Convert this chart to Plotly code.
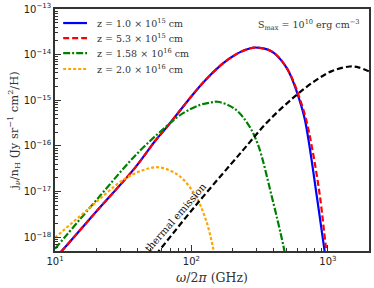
import plotly.graph_objects as go

# ---- data (frequency in GHz, j_nu/n_H in Jy sr^-1 cm^2/H)
freq_z1 = [10.0, 11.2, 20.3, 38.8, 54.5, 64.6, 100, 117, 132, 151, 174, 200, 229, 263, 288, 316, 363, 406,
           457, 501, 537, 603, 675, 735, 826, 925, 966]
j_z1 = [3.5e-19, 5.0e-19, 3.8e-18, 3.4e-17, 1.32e-16, 2.4e-16, 1.23e-15, 2.14e-15, 3.16e-15, 4.7e-15,
        6.8e-15, 9.1e-15, 1.15e-14, 1.35e-14, 1.43e-14, 1.41e-14, 1.29e-14, 1.07e-14,
        7.4e-15, 5.0e-15, 3.3e-15, 1.29e-15, 4.0e-16, 9.3e-17, 8.5e-18, 7.9e-19, 3.2e-19]

freq_z2 = [10.0, 11.2, 20.3, 38.8, 54.5, 64.6, 100, 117, 132, 151, 174, 200, 229, 263, 288, 316, 363, 406,
           457, 501, 540, 610, 689, 764, 871, 962, 1000]
j_z2 = [3.5e-19, 5.0e-19, 3.8e-18, 3.4e-17, 1.32e-16, 2.4e-16, 1.23e-15, 2.14e-15, 3.16e-15, 4.7e-15,
        6.8e-15, 9.1e-15, 1.15e-14, 1.35e-14, 1.43e-14, 1.41e-14, 1.29e-14, 1.07e-14,
        7.4e-15, 5.0e-15, 3.3e-15, 1.29e-15, 4.0e-16, 9.3e-17, 8.5e-18, 6.8e-19, 2.8e-19]

freq_z3 = [10.0, 21.4, 38.8, 64.6, 85.7, 114, 138, 155, 206, 258, 307, 385, 470, 490]
j_z3 = [5.6e-19, 8.1e-18, 6.2e-17, 2.6e-16, 5.1e-16, 7.8e-16, 8.9e-16, 9.3e-16, 6.6e-16, 3.1e-16,
        1.07e-16, 8.5e-18, 6.8e-19, 3.5e-19]

freq_z4 = [10.0, 17.6, 31.0, 43.4, 57.7, 80.9, 107, 127, 143, 148]
j_z4 = [9.8e-19, 4.2e-18, 1.74e-17, 2.9e-17, 3.4e-17, 2.24e-17, 8.1e-18, 2.5e-18, 6.5e-19, 3.5e-19]

freq_th = [55.0, 57.7, 107, 237, 362, 569, 794, 1059, 1445, 1700, 2000]
j_th = [4.2e-19, 5.0e-19, 4.9e-18, 7.9e-17, 3.4e-16, 1.2e-15, 2.6e-15, 4.3e-15, 5.5e-15, 5.2e-15, 4.3e-15]

labels = ["z = 1.0 × 10<sup>15</sup> cm", "z = 5.3 × 10<sup>15</sup> cm",
          "z = 1.58 × 10<sup>16</sup> cm", "z = 2.0 × 10<sup>16</sup> cm"]

x_ticks = [10, 100, 1000]
x_ticktext = ["10<sup>1</sup>", "10<sup>2</sup>", "10<sup>3</sup>"]
y_ticks = [1e-18, 1e-17, 1e-16, 1e-15, 1e-14, 1e-13]
y_ticktext = ["10<sup>−18</sup>", "10<sup>−17</sup>", "10<sup>−16</sup>",
              "10<sup>−15</sup>", "10<sup>−14</sup>", "10<sup>−13</sup>"]

SERIF = "DejaVu Serif"
SANS = "DejaVu Sans"
SM = 1.0

styles = [
    dict(color="#0000ff", width=2.2, dash="solid"),
    dict(color="#ff0000", width=2.2, dash="6px,3px"),
    dict(color="#008000", width=2.2, dash="7px,2px,2px,2px"),
    dict(color="#ffa500", width=2.2, dash="3px,2px"),
]
series = [(freq_z1, j_z1), (freq_z2, j_z2), (freq_z3, j_z3), (freq_z4, j_z4)]

fig = go.Figure()
for (fx, fy), st, lab in zip(series, styles, labels):
    fig.add_trace(go.Scatter(x=fx, y=fy, mode="lines", name=lab, showlegend=False,
                             line=dict(**st, shape="spline", smoothing=SM)))
fig.add_trace(go.Scatter(x=freq_th, y=j_th, mode="lines", showlegend=False,
                         line=dict(color="#000000", width=2.2, dash="6px,3px", shape="spline", smoothing=SM)))

# compact legend (matplotlib-like spacing)
leg_rows = [0.942, 0.880, 0.818, 0.752]
for st, lab, ry in zip(styles, labels, leg_rows):
    fig.add_shape(type="line", xref="paper", yref="paper", x0=0.026, x1=0.102, y0=ry, y1=ry,
                  line=dict(color=st["color"], width=2.2, dash=st["dash"]))
    fig.add_annotation(xref="paper", yref="paper", x=0.127, y=ry, xanchor="left", yanchor="middle",
                       text=lab, showarrow=False, font=dict(family=SERIF, size=9.5, color="#333"))

minor_x = [m * d for d in (10, 100, 1000) for m in range(2, 10)]
minor_y = [m * d for d in (1e-19, 1e-18, 1e-17, 1e-16, 1e-15, 1e-14) for m in range(2, 10)]

fig.add_annotation(x=3.25, y=-13.35, xref="x", yref="y", xanchor="right", yanchor="middle",
                   text="S<sub>max</sub> = 10<sup>10</sup> erg cm<sup>−3</sup>",
                   showarrow=False, font=dict(family=SERIF, size=9.5, color="#333"))
fig.add_annotation(x=1.884, y=-17.575, xref="x", yref="y", text="thermal emission",
                   textangle=-49, showarrow=False, font=dict(family=SERIF, size=10, color="#111"))

fig.update_xaxes(type="log", range=[1, 3.301], showline=True, linecolor="#333", linewidth=1.5,
                 mirror=True, ticks="inside", ticklen=6, tickwidth=1.3, tickcolor="#333",
                 tickmode="array", tickvals=x_ticks, ticktext=x_ticktext, showgrid=False, zeroline=False,
                 automargin=False,
                 tickfont=dict(family=SANS, size=10, color="#222"),
                 minor=dict(ticks="inside", ticklen=3, tickcolor="#333", tickmode="array", tickvals=minor_x,
                            showgrid=False),
                 title=dict(text="<i>ω</i>/2<i>π</i> (GHz)", font=dict(family=SERIF, size=12.5, color="#333"),
                            standoff=7))
fig.update_yaxes(type="log", range=[-18.301, -13], showline=True, linecolor="#333", linewidth=1.5,
                 mirror=True, ticks="inside", ticklen=6, tickwidth=1.3, tickcolor="#333",
                 tickmode="array", tickvals=y_ticks, ticktext=y_ticktext, showgrid=False, zeroline=False,
                 automargin=False,
                 tickfont=dict(family=SANS, size=10, color="#222"),
                 minor=dict(ticks="inside", ticklen=3, tickcolor="#333", tickmode="array", tickvals=minor_y,
                            showgrid=False),
                 title=dict(text="j<sub><i>ν</i></sub>/n<sub>H</sub> (Jy sr<sup>−1</sup> cm<sup>2</sup>/H)",
                            font=dict(family=SERIF, size=11.5, color="#333"), standoff=3))

fig.update_layout(width=374, height=288, margin=dict(l=55, r=5, t=9, b=37, autoexpand=False),
                  paper_bgcolor="white", plot_bgcolor="white", showlegend=False)

fig.write_html("out.html", config={"displayModeBar": False},
               post_script="document.body.style.margin='0px';document.body.style.overflow='hidden';")
